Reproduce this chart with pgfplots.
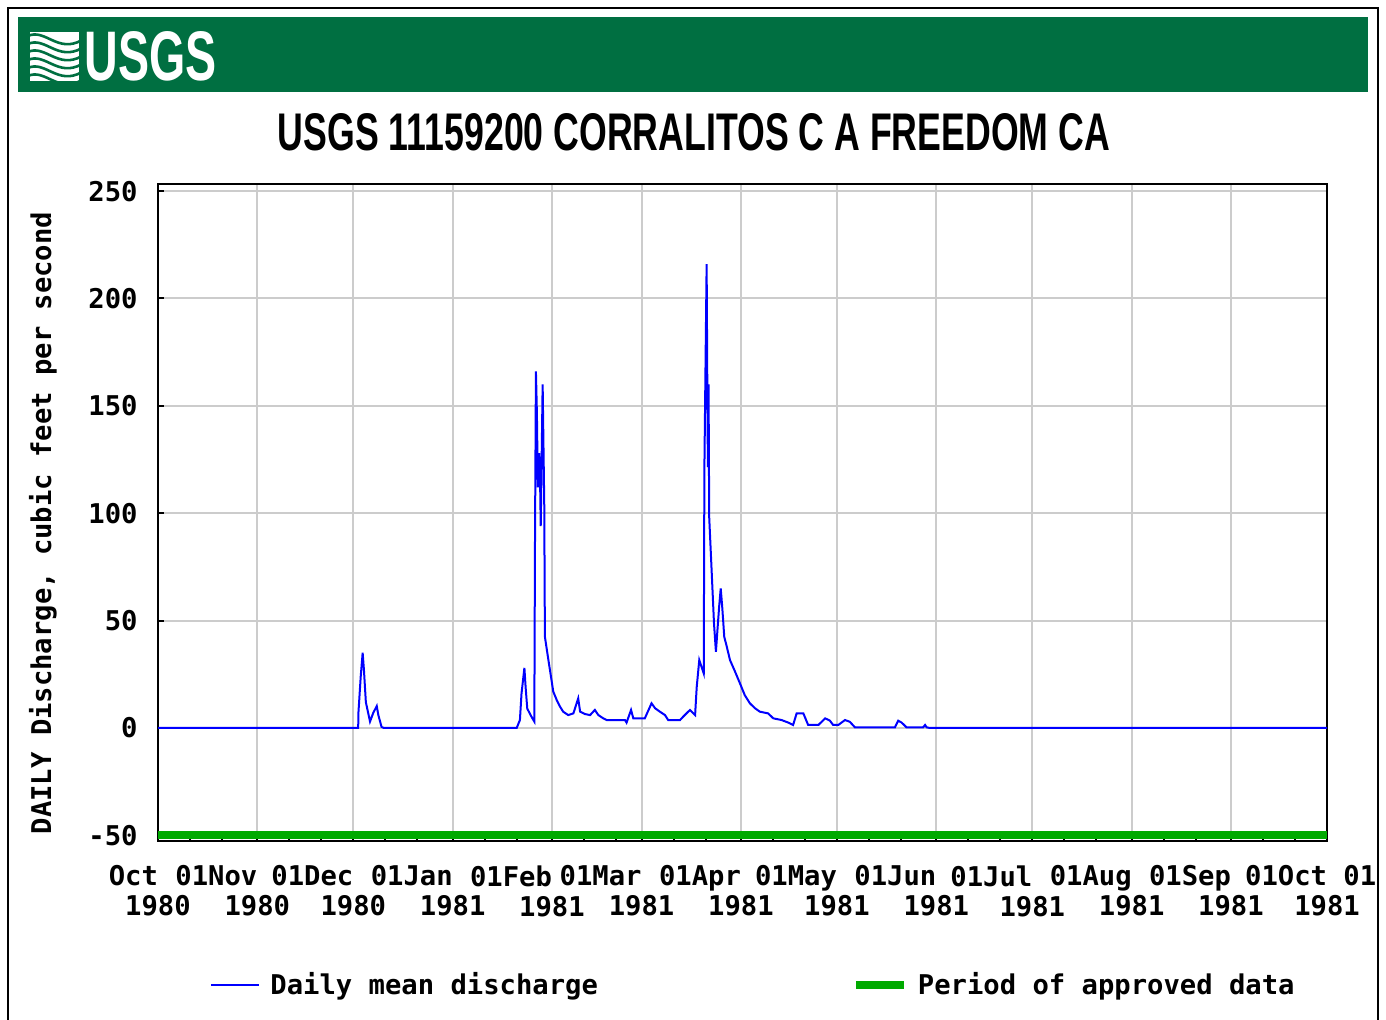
\documentclass[border=0pt]{standalone}
\usepackage{pgfplots}
\pgfplotsset{compat=1.18}
\usepackage{fontspec}
\setmainfont{Liberation Sans}
\newfontfamily\mono{DejaVu Sans Mono}
\newcommand\lbl{\mono\bfseries\fontsize{13.6pt}{15pt}\selectfont}
\definecolor{usgsgreen}{RGB}{0,111,65}
\definecolor{approved}{RGB}{0,170,0}
\definecolor{flow}{RGB}{0,0,255}

\begin{document}
\begin{tikzpicture}
\path[use as bounding box] (0,0) rectangle (693pt,-509.5pt);
\begin{scope}[x=0.5pt,y=-0.5pt]
\draw[black, line width=1pt] (8,1040) -- (8,8) -- (1378,8) -- (1378,1040);
\fill[usgsgreen] (18,17) rectangle (1368,92);
\begin{scope}
\clip (30,32) rectangle (79,81);
\fill[white] (30,32) rectangle (79,81);
\foreach \k in {0,1,2,3,4,5}{
  \draw[usgsgreen, line width=1.3pt] (28,36+\k*8) .. controls (45,28+\k*8) and (58,54+\k*8) .. (82,40+\k*8);
}
\end{scope}
\node[anchor=base west, inner sep=0pt, text=white] at (84,80) {\resizebox{66pt}{24.5pt}{\bfseries USGS}};
\node[anchor=base, inner sep=0pt] at (694,150) {\resizebox{416pt}{18.5pt}{\bfseries USGS 11159200 CORRALITOS C A FREEDOM CA}};
\end{scope}
\begin{axis}[
  at={(79pt,-420.25pt)}, anchor=south west,
  scale only axis, width=584.5pt, height=328.25pt,
  xmin=0, xmax=365, ymin=-52.4, ymax=253.3,
  xtick={0,31,61,92,123,151,182,212,243,273,304,335,365},
  xticklabels={
    {\makebox[0pt][r]{Oct}\\1980},
    {\makebox[0pt][r]{01Nov}\\1980},
    {\makebox[0pt][r]{01Dec}\\1980},
    {\makebox[0pt][r]{01Jan}\\1981},
    {\makebox[0pt][r]{01Feb}\\1981},
    {\makebox[0pt][r]{01Mar}\\1981},
    {\makebox[0pt][r]{01Apr}\\1981},
    {\makebox[0pt][r]{01May}\\1981},
    {\makebox[0pt][r]{01Jun}\\1981},
    {\makebox[0pt][r]{01Jul}\\1981},
    {\makebox[0pt][r]{01Aug}\\1981},
    {\makebox[0pt][r]{01Sep}\\1981},
    {\makebox[0pt][r]{01Oct}\makebox[0pt][l]{\ 01}\\1981}},
  minor xtick={10,20,41,51,71,81,102,112,133,143,161,171,192,202,222,232,253,263,283,293,314,324,345,355},
  ytick={-50,0,50,100,150,200,250},
  yticklabels={-50,0,50,100,150,200,250},
  grid=major, major grid style={gray!40, line width=1pt},
  axis line style={black, line width=1pt},
  tick style={black, line width=1pt},
  major tick length=3pt, minor tick length=3pt,
  tick align=inside, xtick pos=bottom, ytick pos=left,
  ticklabel style={font=\lbl},
  xticklabel style={anchor=north, inner sep=0pt, align=center, yshift=-12.25pt},
  yticklabel style={anchor=east, inner sep=0pt, xshift=-10pt},
  ylabel={DAILY Discharge, cubic feet per second},
  ylabel style={font=\lbl, at={(axis description cs:-0.0984,0.4836)}, anchor=center},
  legend columns=2,
  legend style={draw=none, fill=none, inner sep=0pt, font=\lbl,
    at={(axis description cs:0.0445,-0.2201)}, anchor=west,
    /tikz/every odd column/.append style={column sep=3pt},
    /tikz/every even column/.append style={column sep=125pt}},
  legend image code/.code={\draw[#1] (0pt,0pt) -- (24pt,0pt);},
]
\addplot[flow, line width=1pt, sharp plot] coordinates {
(0,0) (62.5,0) (62.6,7.6) (63.3,24) (63.9,35) (64.3,27) (64.9,12) (66.2,3) (67.2,7) (68.3,10.2) (68.8,6) (69.8,0.5) (70.5,0)
(112.0,0) (113.0,3.7) (113.5,16) (114.4,28) (114.8,18.6) (115.3,9) (116.7,5) (117.5,3) (117.7,84) (118.0,166) (118.3,147) (118.6,112) (119.0,128) (119.3,115) (119.5,94) (120.1,160) (120.6,104) (120.8,42.5) (121.9,31.6) (122.9,22) (123.4,17) (124.5,13) (125.5,10) (126.5,7.6) (128.1,6) (129.7,6.8) (131.2,13.8) (131.8,7.6) (133.3,6.5) (134.9,6) (136.4,8.4) (137.5,6) (139.0,4.5) (140.1,3.7) (145.8,3.7) (146.3,2.5) (147.7,8.4) (148.4,4.5) (152.0,4.5) (154.1,11.5) (155.2,9.2) (156.7,7.6) (158.3,6) (159.3,3.7) (163.0,3.7) (164.0,5.3) (166.1,8.4) (167.7,6) (168.2,19) (169.0,31.6) (169.7,28.5) (170.4,25.4) (170.6,120.8) (171.3,216) (171.5,162.6) (171.7,121.5) (171.9,160) (172.1,98.3) (172.9,72) (173.6,48.7) (174.2,35.5) (174.6,44) (175.2,56.4) (175.7,65) (176.2,55.7) (176.8,42.5) (177.6,37.8) (178.6,31.6) (180.1,26.5) (181.7,20.8) (183.2,15.3) (184.8,11.5) (186.4,9.2) (187.9,7.6) (190.5,6.8) (192.1,4.5) (194.7,3.7) (196.8,2.5) (198.3,1.4) (199.4,6.8) (201.5,6.8) (203.0,1.4) (206.2,1.4) (208.3,4.5) (209.8,3.4) (210.8,1.4) (212.4,1.4) (214.5,3.7) (216.0,2.9) (217.6,0.3) (230.1,0.3) (231.1,3.4) (232.2,2.5) (233.7,0.3) (238.9,0.3) (239.5,1.4) (240.0,0.3) (241,0) (365,0)
};
\addlegendentry{Daily mean discharge}
\addplot[approved, line width=4pt] coordinates {(0,-50) (365,-50)};
\addlegendentry{Period of approved data}
\end{axis}
\end{tikzpicture}
\end{document}
